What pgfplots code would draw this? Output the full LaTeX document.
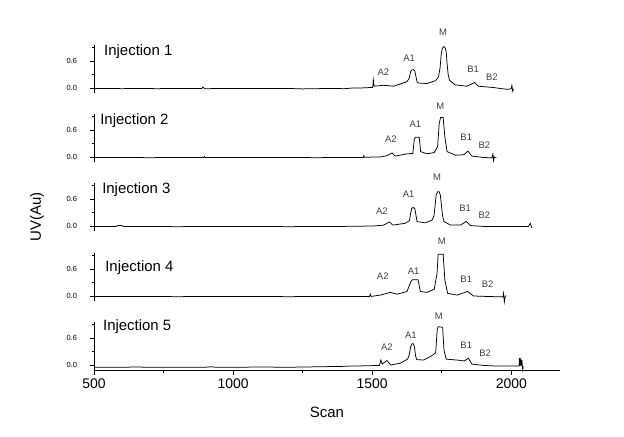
\documentclass[border=0pt]{standalone}
\usepackage{fontspec}
\setmainfont{Liberation Sans}
\usepackage{pgfplots}
\pgfplotsset{compat=1.18}
\tikzset{
 trace/.style={black, line width=0.75bp, mark=none},
 pk/.style={font=\fontsize{9.5}{11}\selectfont, text=black!75, inner sep=0pt},
 inj/.style={font=\fontsize{15}{18}\selectfont, anchor=west, inner sep=0pt},
}
\pgfplotsset{
 panel/.style={
   scale only axis, width=466bp, height=48.15bp,
   xmin=500, xmax=2175, ymin=-0.12, ymax=0.95,
   axis y line*=left,
   ytick={0,0.6}, minor ytick={0.3,0.9},
   ytick align=outside, 
   major tick length=4.5bp, minor tick length=2.5bp,
   yticklabel style={font=\fontsize{7.5}{9}\selectfont, xshift=-9bp,
     /pgf/number format/fixed, /pgf/number format/fixed zerofill,
     /pgf/number format/precision=1},
   /pgf/number format/assume math mode=true,
   /pgf/number format/1000 sep={},
   axis line style={line width=0.8bp, black},
   every tick/.style={line width=0.8bp, black},
   clip=false,
   anchor=south west,
 },
 top/.style={panel, hide x axis},
}
\begin{document}
\begin{tikzpicture}
% Panel 1
\begin{axis}[top, at={(94bp,343.6bp)}]
\addplot[trace] coordinates {(500,-0.01)(560,-0.01)(600,-0.015)(640,-0.01)(700,-0.01)(735,-0.02)(740,-0.01)(800,-0.01)(888,-0.01)(890,0.02)(895,0.0)(900,-0.015)(1000,-0.01)(1100,-0.01)(1200,-0.01)(1250,-0.02)(1300,-0.015)(1350,-0.01)(1400,-0.015)(1430,0.0)(1457,0.0)(1493,0.01)(1502,0.01)(1504,0.18)(1507,0.04)(1541,0.06)(1577,0.04)(1601,0.09)(1625,0.14)(1633,0.22)(1638,0.36)(1642,0.40)(1648,0.41)(1653,0.38)(1657,0.26)(1661,0.14)(1665,0.11)(1697,0.10)(1727,0.16)(1738,0.24)(1744,0.45)(1748,0.75)(1752,0.88)(1757,0.92)(1762,0.90)(1766,0.80)(1769,0.55)(1773,0.30)(1778,0.17)(1798,0.07)(1840,0.04)(1868,0.12)(1882,0.04)(1936,0.01)(1984,-0.03)(1999,-0.02)(2002,0.06)(2005,-0.07)(2008,-0.02)};
\node[inj] at (axis cs:536,0.80) {Injection 1};
\node[pk] at (axis cs:1540,0.35) {A2};
\node[pk] at (axis cs:1633,0.67) {A1};
\node[pk] at (axis cs:1755,1.25) {M};
\node[pk] at (axis cs:1863,0.42) {B1};
\node[pk] at (axis cs:1930,0.23) {B2};
\end{axis}
% Panel 2
\begin{axis}[top, at={(94bp,274.6bp)}]
\addplot[trace] coordinates {(500,-0.01)(600,-0.01)(700,-0.015)(800,-0.01)(895,-0.01)(897,0.01)(900,-0.01)(1000,-0.01)(1100,-0.01)(1200,-0.01)(1300,-0.015)(1400,-0.01)(1468,-0.01)(1470,0.03)(1472,-0.005)(1529,0.0)(1553,0.03)(1571,0.09)(1583,0.02)(1625,0.07)(1646,0.08)(1651,0.38)(1655,0.44)(1669,0.44)(1674,0.12)(1697,0.07)(1723,0.10)(1735,0.23)(1741,0.75)(1746,0.88)(1755,0.88)(1761,0.45)(1769,0.12)(1799,0.04)(1829,0.05)(1844,0.13)(1858,0.02)(1900,-0.01)(1930,-0.02)(1934,0.07)(1936,-0.08)(1939,0.0)(1946,-0.01)};
\node[inj] at (axis cs:522,0.80) {Injection 2};
\node[pk] at (axis cs:1567,0.39) {A2};
\node[pk] at (axis cs:1655,0.73) {A1};
\node[pk] at (axis cs:1745,1.12) {M};
\node[pk] at (axis cs:1838,0.44) {B1};
\node[pk] at (axis cs:1903,0.27) {B2};
\end{axis}
% Panel 3
\begin{axis}[top, at={(94bp,205.6bp)}]
\addplot[trace] coordinates {(500,-0.01)(580,-0.01)(585,0.01)(600,0.01)(605,-0.01)(700,-0.01)(800,-0.015)(900,-0.01)(1000,-0.01)(1100,-0.01)(1200,-0.015)(1300,-0.01)(1385,-0.01)(1505,0.0)(1541,0.02)(1562,0.09)(1574,0.02)(1619,0.06)(1634,0.12)(1638,0.28)(1642,0.39)(1647,0.41)(1653,0.39)(1657,0.25)(1661,0.10)(1691,0.07)(1715,0.13)(1722,0.22)(1726,0.45)(1730,0.70)(1735,0.76)(1741,0.76)(1745,0.68)(1749,0.45)(1753,0.22)(1758,0.10)(1781,0.02)(1817,0.02)(1838,0.10)(1853,0.01)(1900,-0.01)(1984,-0.01)(2062,-0.01)(2068,0.06)(2074,-0.04)};
\node[inj] at (axis cs:529,0.80) {Injection 3};
\node[pk] at (axis cs:1535,0.34) {A2};
\node[pk] at (axis cs:1631,0.71) {A1};
\node[pk] at (axis cs:1733,1.08) {M};
\node[pk] at (axis cs:1834,0.39) {B1};
\node[pk] at (axis cs:1903,0.23) {B2};
\node[rotate=90, font=\fontsize{15}{18}\selectfont, inner sep=0pt] at (rel axis cs:-0.1223,0.299) {UV(Au)};
\end{axis}
% Panel 4
\begin{axis}[top, at={(94bp,135.6bp)}]
\addplot[trace] coordinates {(500,-0.01)(600,-0.01)(700,-0.01)(800,-0.015)(900,-0.01)(1000,-0.01)(1100,-0.01)(1200,-0.015)(1300,-0.01)(1400,-0.01)(1457,-0.01)(1490,-0.01)(1493,0.04)(1496,-0.01)(1529,0.02)(1565,0.08)(1589,0.04)(1625,0.10)(1639,0.32)(1644,0.36)(1665,0.36)(1673,0.10)(1697,0.08)(1723,0.15)(1733,0.50)(1737,0.93)(1755,0.93)(1761,0.36)(1771,0.06)(1805,0.02)(1843,0.10)(1864,0.0)(1912,-0.01)(1970,-0.02)(1972,0.06)(1975,-0.13)(1978,-0.01)(1982,0.01)};
\node[inj] at (axis cs:540,0.64) {Injection 4};
\node[pk] at (axis cs:1538,0.44) {A2};
\node[pk] at (axis cs:1649,0.56) {A1};
\node[pk] at (axis cs:1750,1.21) {M};
\node[pk] at (axis cs:1838,0.37) {B1};
\node[pk] at (axis cs:1915,0.27) {B2};
\end{axis}
% Panel 5
\begin{axis}[panel, at={(94bp,66.6bp)},
  axis x line*=bottom,
  xtick={500,1000,1500,2000}, minor xtick={750,1250,1750},
  xtick align=outside,
  xticklabel style={font=\fontsize{14}{16}\selectfont},
  xlabel={Scan},
  xlabel style={font=\fontsize{15}{18}\selectfont, at={(axis description cs:0.5,0)}, anchor=center, yshift=-41.6bp},
]
\addplot[trace] coordinates {(500,-0.05)(600,-0.05)(650,-0.045)(700,-0.05)(800,-0.05)(900,-0.05)(920,-0.04)(940,-0.05)(1000,-0.05)(1100,-0.045)(1200,-0.05)(1300,-0.04)(1400,-0.03)(1430,-0.02)(1457,-0.02)(1526,-0.01)(1531,0.11)(1536,0.02)(1553,0.10)(1567,0.0)(1601,0.04)(1627,0.13)(1633,0.22)(1638,0.40)(1643,0.47)(1648,0.47)(1652,0.40)(1656,0.20)(1660,0.12)(1685,0.11)(1715,0.21)(1728,0.27)(1734,0.81)(1737,0.85)(1753,0.84)(1758,0.33)(1766,0.13)(1805,0.11)(1831,0.09)(1846,0.15)(1858,0.02)(1900,-0.01)(1936,-0.02)(2020,-0.02)(2028,-0.02)(2029,0.15)(2031,-0.02)(2034,0.15)(2036,-0.02)(2038,0.11)(2041,-0.11)(2043,-0.03)};
\node[inj] at (axis cs:532,0.86) {Injection 5};
\node[pk] at (axis cs:1553,0.39) {A2};
\node[pk] at (axis cs:1639,0.67) {A1};
\node[pk] at (axis cs:1739,1.09) {M};
\node[pk] at (axis cs:1838,0.44) {B1};
\node[pk] at (axis cs:1906,0.26) {B2};
\end{axis}
\pgfresetboundingbox
\path[use as bounding box] (0,0) rectangle (624bp,437bp);
\end{tikzpicture}
\end{document}
